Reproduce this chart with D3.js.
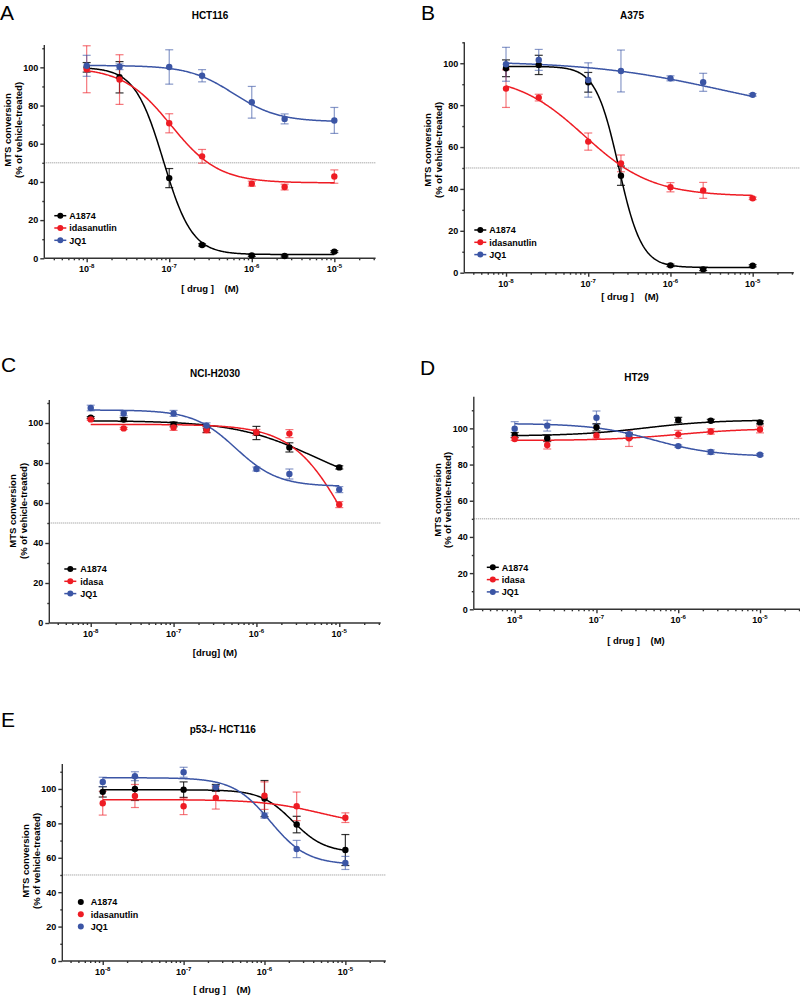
<!DOCTYPE html>
<html><head><meta charset="utf-8">
<script src="https://cdn.jsdelivr.net/npm/d3@7"></script>
<style>
html,body{margin:0;padding:0;background:#fff;}
svg{display:block;font-family:"Liberation Sans",Arial,sans-serif;}
</style></head>
<body>
<script>
// ---------- data ----------
const doses = [1e-8, 2.5e-8, 1e-7, 2.5e-7, 1e-6, 2.5e-6, 1e-5];
const xMajorTicks = [1e-8, 1e-7, 1e-6, 1e-5];
const xMajorExp = ["-8", "-7", "-6", "-5"];
const yMajorTicks = [0, 20, 40, 60, 80, 100];
const yMinorTicks = [10, 30, 50, 70, 90, 110];
const seriesColors = ["#000000", "#ee1c24", "#3b55a5"];

const titles = ["HCT116", "A375", "NCI-H2030", "HT29", "p53-/- HCT116"];
const letters = ["A", "B", "C", "D", "E"];
const xTitles = ["[ drug ]    (M)", "[ drug ]    (M)", "[drug] (M)", "[ drug ]    (M)", "[ drug ]    (M)"];
const legendA = ["A1874", "idasanutlin", "JQ1"];
const legendShort = ["A1874", "idasa", "JQ1"];

// means (% of vehicle) per series: A1874, idasanutlin, JQ1
const hct116Mean = [
  [100, 94.8, 42, 7, 1.5, 1.2, 3.5],
  [99, 93.6, 70.7, 53.4, 39.1, 37.3, 42.8],
  [100.8, 100.3, 100.2, 95.6, 81.7, 73, 72.2]];
const hct116Sem = [
  [2.5, 8.2, 5, 0.6, 0.5, 0.5, 0.5],
  [12.3, 13, 5, 3.6, 1.3, 1.5, 3.5],
  [5.5, 1.5, 9, 3.2, 8.3, 2.6, 6.8]];
const a375Mean = [
  [97.6, 99.2, 90.9, 46.3, 3.5, 1.6, 3.3],
  [87.9, 83.6, 62.6, 52.2, 40.8, 39.3, 35.5],
  [99.5, 101.6, 92, 96.3, 92.8, 90.9, 84.9]];
const a375Sem = [
  [4, 4.6, 4.7, 4.6, 0.6, 0.6, 0.5],
  [9, 1.6, 4.1, 4, 2.2, 3.8, 0.6],
  [8.1, 5, 8.2, 10, 1.2, 4.3, 0.6]];
const h2030Mean = [
  [102.7, 101.7, 99.3, 96.8, 95, 87.8, 77.8],
  [101.8, 97.3, 97.8, 96.5, 95.3, 94.7, 59.2],
  [107.5, 104.8, 104.8, 98.7, 77, 74.5, 66.7]];
const h2030Sem = [
  [0.5, 1, 1.2, 1.5, 3.3, 2.3, 0.8],
  [0.5, 0.5, 1.5, 1.5, 1.5, 2, 1.5],
  [1.4, 1.2, 1.5, 1.4, 1, 2.5, 1.5]];
const ht29Mean = [
  [96.3, 94.5, 100.6, 95.8, 104.6, 104.2, 103.3],
  [94.1, 90.8, 96.1, 94.5, 96.7, 98.3, 99.4],
  [99.8, 101.5, 105.9, 96.8, 90.2, 86.9, 85.4]];
const ht29Sem = [
  [1.4, 1.8, 2, 1.5, 1.5, 0.8, 0.8],
  [0.8, 2.2, 1.5, 4.5, 2.2, 1.5, 1.9],
  [3.9, 3, 3.7, 1, 0.6, 1.2, 0.6]];
const p53Mean = [
  [98.3, 100, 99.6, 100.6, 94.4, 79.3, 64.5],
  [91.7, 95.9, 89.9, 94.8, 96.1, 89.9, 83.3],
  [104.1, 107.4, 109.7, 101, 84.5, 65.1, 57]];
const p53Sem = [
  [3, 6.7, 4.5, 2, 10.5, 4.8, 9],
  [6.9, 6.7, 4.8, 6.5, 8, 8.3, 2.8],
  [2.7, 2.6, 2.9, 1, 1.5, 5, 3.8]];

// fitted 4-parameter logistic curves: [left plateau, right plateau, logEC50, Hill slope]
const hct116Fit = [[100, 2, -7.07, 2.5], [100, 39.5, -6.98, 1.5], [101, 71.5, -6.22, 1.6]];
const a375Fit = [[98.5, 2.5, -6.63, 3.1], [94.5, 36.5, -7.05, 1.05], [101, 74, -5.4, 0.55]];
const h2030Fit = [[101.2, 65, -5.3, 0.9], [99.3, 0, -4.88, 1.3], [106.5, 68.3, -6.25, 1.7]];
const ht29Fit = [[95.8, 104.7, -6.4, 1], [93.3, 100, -6.0, 1], [102.7, 84.5, -6.3, 1.15]];
const p53Fit = [[99.5, 63, -5.65, 2.2], [93.8, 78, -5.3, 1.2], [106.5, 56, -5.93, 1.9]];

const panelMeans = [hct116Mean, a375Mean, h2030Mean, ht29Mean, p53Mean];
const panelSems = [hct116Sem, a375Sem, h2030Sem, ht29Sem, p53Sem];
const panelFits = [hct116Fit, a375Fit, h2030Fit, ht29Fit, p53Fit];
const panelLegends = [legendA, legendA, legendShort, legendShort, legendA];

// ---------- layout ----------
const layout = [
  {left:45.4, right:375.6, y0:258.3, top:45, ymax:111.7, axisX:44.3,
   letter:[0,20], title:[210,19], xt:[210,292], yl:130, leg:{x:44.3, dot:16, text:25, y:215.7, line:true}, dotEnd:376},
  {left:464.9, right:793.8, y0:272.7, top:42.3, ymax:110, axisX:464.3,
   letter:[421,20], title:[632,19], xt:[630,300], yl:150, leg:{x:464.3, dot:16, text:25, y:230, line:true}, dotEnd:800},
  {left:49.3, right:380.7, y0:623, top:400, ymax:111.5, axisX:49.3,
   letter:[1,372], title:[215,377], xt:[215,656], yl:511, leg:{x:49.3, dot:21, text:31, y:569, line:true}, dotEnd:381},
  {left:473.8, right:800.9, y0:609.3, top:396.7, ymax:117.5, axisX:473.8,
   letter:[420,375], title:[636.5,380.5], xt:[636,644], yl:500, leg:{x:473.8, dot:19, text:28, y:567.3, line:true}, dotEnd:800},
  {left:62.3, right:385.8, y0:961, top:764, ymax:114.5, axisX:62.3,
   letter:[1,727], title:[222.7,733], xt:[222,993], yl:861, leg:{x:62.3, dot:18.5, text:28.5, y:902, line:false}, dotEnd:386}
];

const svg = d3.select("body").append("svg").attr("width", 800).attr("height", 995);
const FONT = '"Liberation Sans",Arial,sans-serif';

function logistic(p, lx) { return p[1] + (p[0] - p[1]) / (1 + Math.pow(10, (lx - p[2]) * p[3])); }

layout.forEach((L, pi) => {
  const g = svg.append("g");
  const x = d3.scaleLog().domain([Math.pow(10, -8.5), Math.pow(10, -4.5)]).range([L.left, L.right]);
  const y = d3.scaleLinear().domain([0, L.ymax]).range([L.y0, L.top]);

  // panel letter and title
  g.append("text").attr("x", L.letter[0]).attr("y", L.letter[1]).attr("font-size", 21)
    .attr("font-family", FONT).text(letters[pi]);
  g.append("text").attr("x", L.title[0]).attr("y", L.title[1]).attr("font-size", 10)
    .attr("font-weight", "bold").attr("text-anchor", "middle").attr("font-family", FONT).text(titles[pi]);

  // dotted 50% line
  g.append("line").attr("x1", L.axisX).attr("x2", L.dotEnd).attr("y1", y(50)).attr("y2", y(50))
    .attr("stroke", "#8a8a8a").attr("stroke-width", 1).attr("stroke-dasharray", "1,1");

  // y axis
  const yAx = g.append("g").attr("transform", `translate(${L.axisX},0)`)
    .call(d3.axisLeft(y).tickValues(yMajorTicks).tickSize(4).tickSizeOuter(0).tickPadding(2).tickFormat(d3.format("d")));
  g.append("g").attr("transform", `translate(${L.axisX},0)`)
    .call(d3.axisLeft(y).tickValues(yMinorTicks.filter(v => v <= L.ymax)).tickSize(2).tickSizeOuter(0).tickFormat(""))
    .select(".domain").remove();
  yAx.select(".domain").attr("d", `M0,${L.top}V${L.y0}`);

  // x axis
  const minor = [];
  [-9, -8, -7, -6, -5].forEach(e => { for (let m = 2; m <= 9; m++) { const v = m * Math.pow(10, e); if (v > x.domain()[0] && v < x.domain()[1]) minor.push(v); } });
  const xAx = g.append("g").attr("transform", `translate(0,${L.y0})`)
    .call(d3.axisBottom(x).tickValues(xMajorTicks).tickSize(4).tickSizeOuter(0).tickFormat(""));
  xAx.select(".domain").attr("d", `M${L.axisX},0H${L.right}`);
  g.append("g").attr("transform", `translate(0,${L.y0})`)
    .call(d3.axisBottom(x).tickValues(minor).tickSize(2).tickSizeOuter(0).tickFormat(""))
    .select(".domain").remove();
  xMajorTicks.forEach((v, i) => {
    const t = g.append("text").attr("x", x(v)).attr("y", L.y0 + 14).attr("text-anchor", "middle")
      .attr("font-size", 9).attr("font-weight", "bold").attr("font-family", FONT);
    t.append("tspan").text("10");
    t.append("tspan").attr("dy", -4).attr("font-size", 6).text(xMajorExp[i]);
  });

  g.selectAll(".tick text").attr("font-size", 9).attr("font-weight", "bold").attr("font-family", FONT).attr("fill", "#000");
  g.selectAll(".domain, .tick line").attr("stroke", "#333").attr("stroke-width", 1.4);

  // axis titles
  g.append("text").attr("x", L.xt[0]).attr("y", L.xt[1]).attr("text-anchor", "middle").attr("font-size", 9.5)
    .attr("font-weight", "bold").attr("font-family", FONT).style("white-space", "pre").text(xTitles[pi]);
  const yl = g.append("g").attr("transform", `translate(${L.axisX - 33},${L.yl}) rotate(-90)`);
  yl.append("text").attr("text-anchor", "middle").attr("font-size", 9.5).attr("font-weight", "bold")
    .attr("font-family", FONT).text("MTS conversion");
  yl.append("text").attr("y", 10.5).attr("text-anchor", "middle").attr("font-size", 9.5).attr("font-weight", "bold")
    .attr("font-family", FONT).text("(% of vehicle-treated)");

  const means = panelMeans[pi], sems = panelSems[pi], fits = panelFits[pi];
  const lxs = d3.range(0, 301).map(i => -8 + i * 0.01);

  [0, 1, 2].forEach(s => {
    const col = seriesColors[s];
    const eg = g.append("g").attr("stroke", col).attr("stroke-opacity", s === 0 ? 0.8 : 0.6).attr("stroke-width", 1.2);
    doses.forEach((d, i) => {
      const cx = x(d), lo = y(means[s][i] - sems[s][i]), hi = y(means[s][i] + sems[s][i]);
      eg.append("line").attr("x1", cx).attr("x2", cx).attr("y1", lo).attr("y2", hi);
      eg.append("line").attr("x1", cx - 4).attr("x2", cx + 4).attr("y1", lo).attr("y2", lo);
      eg.append("line").attr("x1", cx - 4).attr("x2", cx + 4).attr("y1", hi).attr("y2", hi);
    });
  });
  [0, 1, 2].forEach(s => {
    g.append("path").datum(lxs.map(lx => ({lx, v: logistic(fits[s], lx)})))
      .attr("d", d3.line().x(d => x(Math.pow(10, d.lx))).y(d => y(d.v)))
      .attr("fill", "none").attr("stroke", seriesColors[s]).attr("stroke-width", 1.5);
  });
  [0, 1, 2].forEach(s => {
    g.append("g").selectAll("circle").data(doses).join("circle")
      .attr("cx", d => x(d)).attr("cy", (d, i) => y(means[s][i])).attr("r", 3.2).attr("fill", seriesColors[s]);
  });

  // legend
  const lg = L.leg;
  panelLegends[pi].forEach((name, s) => {
    const ry = lg.y + s * 12.3;
    if (lg.line) g.append("line").attr("x1", lg.x + lg.dot - 6).attr("x2", lg.x + lg.dot + 6).attr("y1", ry).attr("y2", ry)
      .attr("stroke", seriesColors[s]).attr("stroke-width", 1.5);
    g.append("circle").attr("cx", lg.x + lg.dot).attr("cy", ry).attr("r", 3).attr("fill", seriesColors[s]);
    g.append("text").attr("x", lg.x + lg.text).attr("y", ry + 3.3).attr("font-size", 9).attr("font-weight", "bold")
      .attr("font-family", FONT).text(name);
  });
});
</script>
</body></html>
